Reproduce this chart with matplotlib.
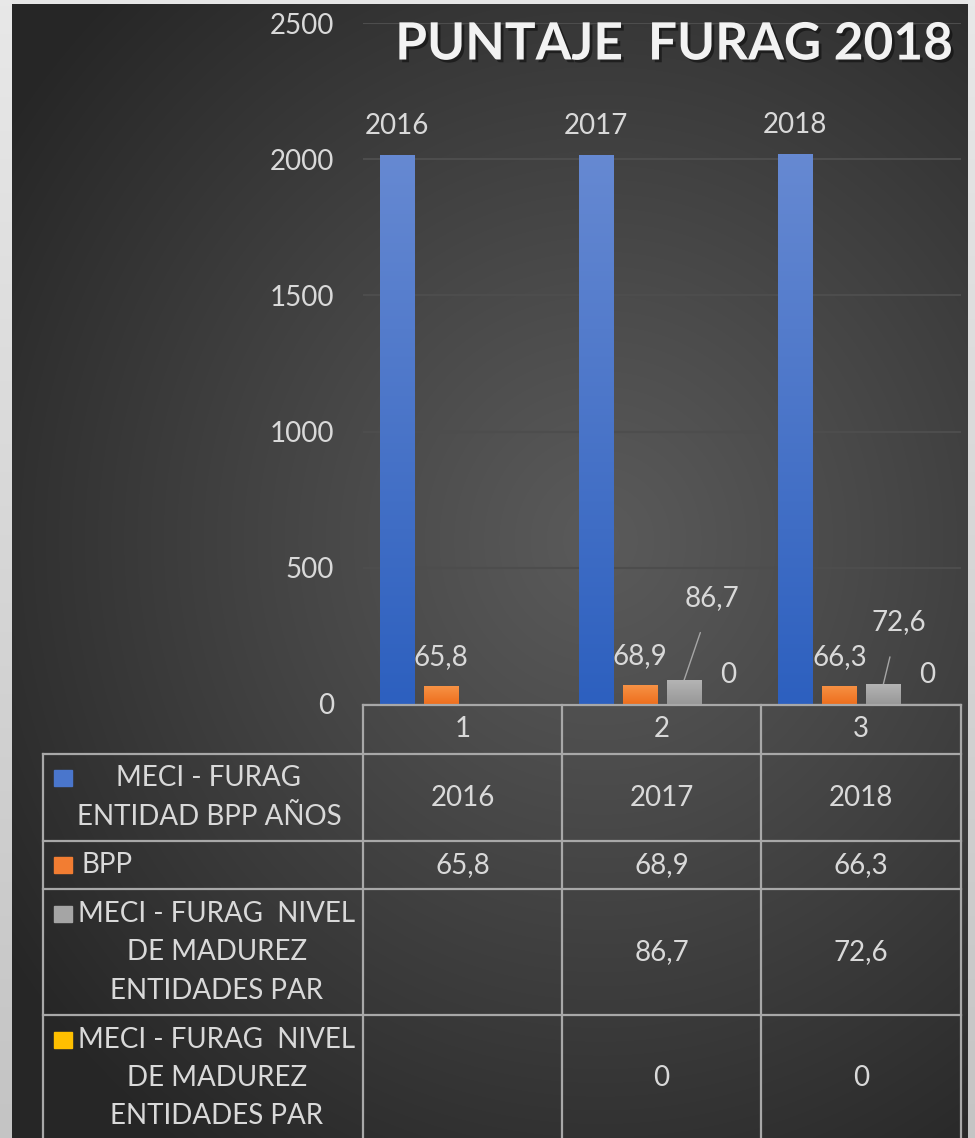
import numpy as np
import matplotlib
matplotlib.use("Agg")
import matplotlib.pyplot as plt
import matplotlib.patheffects as pe
from matplotlib.patches import Rectangle
from matplotlib.colors import to_rgb

plt.rcParams['font.family'] = ['Lato', 'DejaVu Sans']

# data
categories = ['1', '2', '3']
series_names = ['MECI - FURAG\nENTIDAD BPP AÑOS',
                'BPP',
                'MECI - FURAG  NIVEL\nDE MADUREZ\nENTIDADES PAR',
                'MECI - FURAG  NIVEL\nDE MADUREZ\nENTIDADES PAR']
meci_anios = [2016, 2017, 2018]
bpp = [65.8, 68.9, 66.3]
meci_par = [np.nan, 86.7, 72.6]
meci_par2 = [np.nan, 0, 0]
series = [meci_anios, bpp, meci_par, meci_par2]
colors = ['#4a76cc', '#f27d32', '#a5a5a5', '#ffc000']
tops = ['#6689d2', '#f79245', '#b4b4b4', '#ffd040']
bottoms = ['#2d60bf', '#ee6f1e', '#989898', '#f5b000']
yticks = [0, 500, 1000, 1500, 2000, 2500]

txt = '#d9d9d9'
W, H = 975, 1138
fig = plt.figure(figsize=(9.75, 11.38), dpi=100, facecolor='#e6e6e6')

# background gradient
bg = fig.add_axes([0, 0, 1, 1])
bg.set_zorder(0)
bg.set_xlim(0, W); bg.set_ylim(H, 0); bg.axis('off')
yy, xx = np.mgrid[4:H, 12:968]
r = np.hypot(xx - 600, (yy - 540) * 0.95)
t = np.clip(r / 720, 0, 1) ** 1.1
g = (0x5a + (0x26 - 0x5a) * t) / 255.0
bg.imshow(np.dstack([g, g, g]), extent=[12, 968, H, 4], aspect='auto',
          interpolation='bilinear')
side = np.linspace(0xe8, 0xc4, 200)[:, None] / 255.0
bg.imshow(np.dstack([side, side, side]), extent=[0, 12, H, 0], aspect='auto')
bg.imshow(np.dstack([side, side, side]), extent=[968, W, H, 0], aspect='auto')
bg.set_xlim(0, W); bg.set_ylim(H, 0)

# main chart
x0, x1 = 363, 961
ybot, ytop = 704, 23
ax = fig.add_axes([x0 / W, 1 - ybot / H, (x1 - x0) / W, (ybot - ytop) / H])
ax.set_zorder(1)
ax.set_facecolor('none')
for s in ax.spines.values():
    s.set_visible(False)
ax.set_yticks(yticks)
ax.set_yticklabels([str(v) for v in yticks])
ax.tick_params(axis='y', length=0, pad=21, labelsize=20, labelcolor=txt)
ax.set_xticks([])
ax.grid(axis='y', color='#4d4d4d', lw=1.5)
ax.set_axisbelow(True)

xs = np.arange(len(categories))
slot = 0.2208
bw = 0.1706
for i, (vals, c) in enumerate(zip(series, colors)):
    pos = xs + (i - 1.5) * slot
    bars = ax.bar(pos, vals, width=bw, color=c, zorder=3)
    grad = np.linspace(0, 1, 100)[:, None]
    ct, cb = np.array(to_rgb(tops[i])), np.array(to_rgb(bottoms[i]))
    gimg = (ct[None, None, :] * (1 - grad[:, :, None]) + cb[None, None, :] * grad[:, :, None])
    for b, v in zip(bars, vals):
        if np.isnan(v) or v == 0:
            continue
        bx, by = b.get_x(), b.get_height()
        im = ax.imshow(gimg, extent=[bx, bx + bw, 0, by], aspect='auto', zorder=3.5,
                       interpolation='bilinear')
        im.set_clip_path(b)
    for p, v in zip(pos, vals):
        if np.isnan(v):
            continue
        lab = str(int(v)) if i == 0 or v == 0 else ('%.1f' % v).replace('.', ',')
        if i == 2:
            dx, dy = (28, 82) if v > 80 else (15, 62)
            ax.annotate(lab, (p, v), xytext=(dx, dy), textcoords='offset pixels',
                        ha='center', va='center', fontsize=20, color=txt,
                        arrowprops=dict(arrowstyle='-', color='#a6a6a6', lw=1,
                                        shrinkA=14, shrinkB=0))
        else:
            ax.annotate(lab, (p, v), xytext=(0, 29), textcoords='offset pixels',
                        ha='center', va='center', fontsize=20, color=txt)
ax.set_xlim(-0.5, 2.5)
ax.set_ylim(0, 2500)

# title
ov = fig.add_axes([0, 0, 1, 1])
ov.set_zorder(2)
ov.patch.set_visible(False)
ov.set_xlim(0, W); ov.set_ylim(H, 0); ov.axis('off')
ov.text(952, 45, 'PUNTAJE  FURAG 2018', ha='right', va='center', fontsize=37,
        fontweight='bold', color='#f2f2f2',
        path_effects=[pe.withSimplePatchShadow(offset=(2, -2), shadow_rgbFace='black', alpha=0.45)])

# data table
lc = '#a8a8a8'
lw = 1.6
cols = [363, 562, 761, 961]
rows = [754, 841, 889, 1015, 1141]
ov.plot([363, 961], [705, 705], color=lc, lw=lw)
for yv in rows[:-1]:
    ov.plot([43, 961], [yv, yv], color=lc, lw=lw)
for xv in cols:
    ov.plot([xv, xv], [705, H], color=lc, lw=lw)
ov.plot([43, 43], [754, H], color=lc, lw=lw)

for j, c in enumerate(categories):
    ov.text((cols[j] + cols[j + 1]) / 2, 729, c, ha='center', va='center',
            fontsize=20, color=txt)

for i, (name, vals, c) in enumerate(zip(series_names, series, colors)):
    top, bot = rows[i], rows[i + 1]
    lines = name.split('\n')
    n = len(lines)
    step = 38.5
    first = (top + bot) / 2 - (n - 1) * step / 2
    ov.add_patch(Rectangle((54, first - 8), 18, 16, color=c))
    for k, ln in enumerate(lines):
        if n == 1:
            ov.text(82, first, ln, ha='left', va='center', fontsize=20, color=txt)
        else:
            cx = 209 if i == 0 else 217
            ov.text(cx, first + k * step, ln, ha='center', va='center',
                    fontsize=20, color=txt)
    for j, v in enumerate(vals):
        if np.isnan(v):
            continue
        lab = str(int(v)) if i == 0 or v == 0 else ('%.1f' % v).replace('.', ',')
        ov.text((cols[j] + cols[j + 1]) / 2, (top + bot) / 2, lab, ha='center',
                va='center', fontsize=20, color=txt)

fig.savefig('out.png', dpi=100, facecolor=fig.get_facecolor())
